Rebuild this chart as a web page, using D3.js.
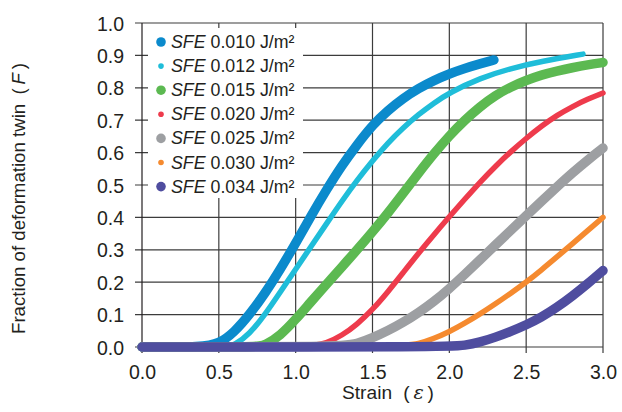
<!DOCTYPE html>
<html>
<head>
<meta charset="utf-8">
<script src="https://cdn.jsdelivr.net/npm/d3@7"></script>
<style>
  html, body { margin: 0; padding: 0; background: #fff; }
  svg { display: block; }
  text { font-family: "Liberation Sans", Arial, "Noto Sans CJK JP", sans-serif; fill: #231f20; }
</style>
</head>
<body>
<svg id="chart" width="622" height="412"></svg>
<script>
// ---- data ----
const xTicks = [0, 0.5, 1.0, 1.5, 2.0, 2.5, 3.0];
const yTicks = [0, 0.1, 0.2, 0.3, 0.4, 0.5, 0.6, 0.7, 0.8, 0.9, 1.0];
const sfeLabels = ["0.010", "0.012", "0.015", "0.020", "0.025", "0.030", "0.034"];
const sfeColors = ["#0b8acc", "#1fbdd9", "#5cb951", "#ee3b4c", "#9d9fa2", "#f58a2f", "#4f4d9f"];
const sfeThick  = [true, false, true, false, true, false, true];

// [strain, fraction] pairs per series
const sfe010 = [[0,0],[0.4,0],[0.5,0.01],[0.6,0.045],[0.7,0.10],[0.8,0.165],[0.9,0.24],[1.0,0.32],
  [1.1,0.405],[1.2,0.485],[1.3,0.56],[1.4,0.625],[1.5,0.685],[1.6,0.73],[1.7,0.768],[1.8,0.798],
  [1.9,0.823],[2.0,0.843],[2.1,0.86],[2.2,0.874],[2.29,0.886]];
const sfe012 = [[0,0],[0.55,0],[0.6,0.005],[0.7,0.04],[0.8,0.10],[0.9,0.17],[1.0,0.24],[1.1,0.31],
  [1.2,0.38],[1.3,0.45],[1.4,0.515],[1.5,0.575],[1.6,0.63],[1.7,0.677],[1.8,0.718],[1.9,0.753],
  [2.0,0.785],[2.2,0.83],[2.4,0.86],[2.6,0.882],[2.87,0.904]];
const sfe015 = [[0,0],[0.75,0],[0.8,0.005],[0.9,0.035],[1.0,0.085],[1.1,0.14],[1.2,0.193],[1.3,0.247],
  [1.4,0.30],[1.5,0.355],[1.6,0.413],[1.7,0.475],[1.8,0.537],[1.9,0.597],[2.0,0.652],[2.1,0.70],
  [2.2,0.742],[2.3,0.777],[2.4,0.803],[2.5,0.823],[2.6,0.84],[2.7,0.852],[2.8,0.862],[2.9,0.871],[3.0,0.878]];
const sfe020 = [[0,0],[1.1,0],[1.2,0.012],[1.3,0.035],[1.4,0.07],[1.5,0.115],[1.6,0.17],[1.7,0.23],
  [1.8,0.29],[1.9,0.347],[2.0,0.402],[2.1,0.456],[2.2,0.509],[2.3,0.558],[2.4,0.603],[2.5,0.644],
  [2.6,0.682],[2.7,0.715],[2.8,0.742],[2.9,0.765],[3.0,0.784]];
const sfe025 = [[0,0],[1.3,0],[1.4,0.01],[1.5,0.028],[1.6,0.05],[1.7,0.076],[1.8,0.106],[1.9,0.14],
  [2.0,0.18],[2.1,0.224],[2.2,0.269],[2.3,0.315],[2.4,0.36],[2.5,0.405],[2.6,0.45],[2.7,0.494],
  [2.8,0.537],[2.9,0.577],[3.0,0.614]];
const sfe030 = [[0,0],[1.7,0],[1.8,0.01],[1.9,0.026],[2.0,0.047],[2.1,0.073],[2.2,0.102],[2.3,0.133],
  [2.4,0.166],[2.5,0.20],[2.6,0.238],[2.7,0.278],[2.8,0.318],[2.9,0.359],[3.0,0.40]];
const sfe034 = [[0,0],[2.0,0],[2.1,0.005],[2.2,0.015],[2.3,0.03],[2.4,0.048],[2.5,0.068],[2.6,0.092],
  [2.7,0.122],[2.8,0.157],[2.9,0.195],[3.0,0.236]];
const seriesData = [sfe010, sfe012, sfe015, sfe020, sfe025, sfe030, sfe034];

// ---- drawing ----
const svg = d3.select("#chart");
const x = d3.scaleLinear().domain([0, 3]).range([142, 603]);
const y = d3.scaleLinear().domain([0, 1]).range([347, 23]);
const gridColor = "#3c3c3c";

// grid lines
const grid = svg.append("g");
grid.selectAll("line.h").data(yTicks).join("line")
  .attr("x1", x(0) - 7).attr("x2", x(3))
  .attr("y1", d => y(d)).attr("y2", d => y(d))
  .attr("stroke", gridColor).attr("stroke-width", 1.2);
grid.selectAll("line.v").data(xTicks).join("line")
  .attr("x1", d => x(d)).attr("x2", d => x(d))
  .attr("y1", y(1)).attr("y2", y(0) + 6)
  .attr("stroke", d => d === 0 ? "#231f20" : gridColor).attr("stroke-width", 1.2);

// axes labels
const yAxis = d3.axisLeft(y).tickValues(yTicks).tickFormat(d3.format(".1f")).tickSize(0).tickPadding(0);
const gy = svg.append("g").attr("transform", "translate(124,0)").call(yAxis);
gy.select(".domain").remove();
gy.selectAll("text").style("font-size", "19.5px").attr("dy", "0.36em").attr("fill", "#231f20");

const xAxis = d3.axisBottom(x).tickValues(xTicks).tickFormat(d3.format(".1f")).tickSize(0).tickPadding(0);
const gx = svg.append("g").attr("transform", "translate(0,365)").call(xAxis);
gx.select(".domain").remove();
gx.selectAll("text").style("font-size", "19.5px").attr("dy", "0.71em").attr("fill", "#231f20");

// legend background (covers grid)
svg.append("rect").attr("x", 148).attr("y", 28).attr("width", 155).attr("height", 170).attr("fill", "#fff");

// curves
const line = d3.line().x(d => x(d[0])).y(d => y(d[1])).curve(d3.curveBasis);
svg.append("g").selectAll("path").data(seriesData).join("path")
  .attr("d", line)
  .attr("fill", "none")
  .attr("stroke", (d, i) => sfeColors[i])
  .attr("stroke-width", (d, i) => sfeThick[i] ? 9.5 : 5.5)
  .attr("stroke-linecap", "round")
  .attr("stroke-linejoin", "round");

// legend
const leg = svg.append("g");
const rows = leg.selectAll("g").data(sfeLabels).join("g")
  .attr("transform", (d, i) => `translate(161,${42 + i * 24.1})`);
rows.append("circle").attr("r", (d, i) => sfeThick[i] ? 4.8 : 2.8)
  .attr("fill", (d, i) => sfeColors[i]);
const lt = rows.append("text").attr("x", 10).attr("y", 6).style("font-size", "17.8px");
lt.append("tspan").attr("font-style", "italic").text("SFE");
lt.append("tspan").text(d => ` ${d} J/m²`);

// axis titles (scaled so their length matches the reference)
function fitFont(sel, base, target) {
  const len = sel.node().getComputedTextLength();
  if (len > 0) sel.style("font-size", (base * target / len).toFixed(2) + "px");
}
const xt = svg.append("text").attr("x", 342).attr("y", 399).style("font-size", "18px");
xt.append("tspan").text("Strain\u2002\u200a(\u2009");
xt.append("tspan").attr("font-style", "italic").style("font-family", "'DejaVu Serif', serif").text("ε");
xt.append("tspan").text("\u2009)");
fitFont(xt, 18, 92);

const yt = svg.append("text").attr("transform", "translate(25,334) rotate(-90)").style("font-size", "19px");
yt.append("tspan").text("Fraction of deformation twin\u2002(\u2009");
yt.append("tspan").attr("font-style", "italic").text("F");
yt.append("tspan").text("\u2009)");
fitFont(yt, 19, 271);
</script>
</body>
</html>
